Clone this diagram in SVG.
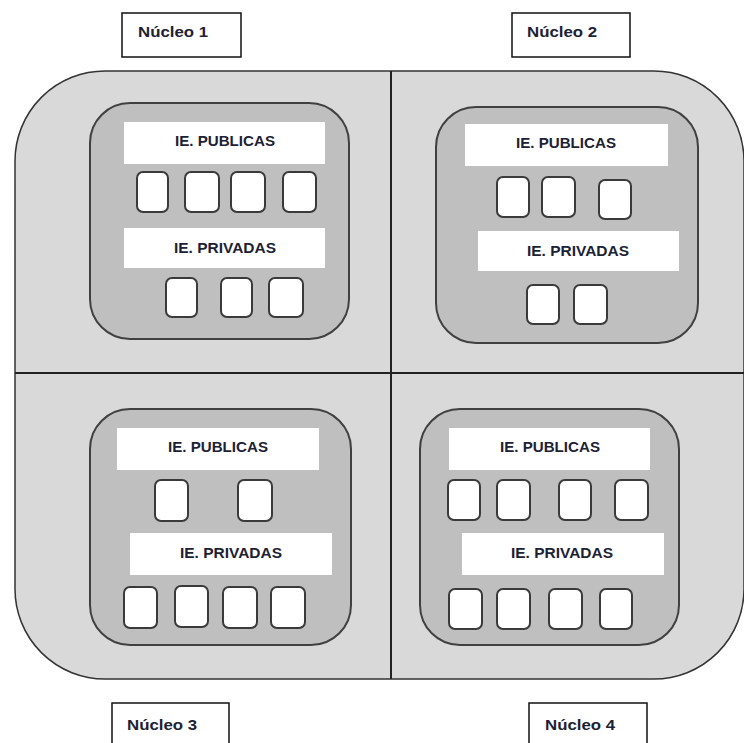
<svg xmlns="http://www.w3.org/2000/svg" width="744" height="743" viewBox="0 0 744 743">
<style>
  .outer{fill:#d9d9d9;stroke:#333;stroke-width:1.5}
  .div{stroke:#222;stroke-width:2}
  .inner{fill:#bfbfbf;stroke:#404040;stroke-width:2}
  .band{fill:#ffffff}
  .ie{fill:#ffffff;stroke:#3a3a3a;stroke-width:2}
  .lbl{fill:#ffffff;stroke:#111;stroke-width:1.5}
  .t{font-family:"Liberation Sans",Arial,sans-serif;font-size:14px;font-weight:bold;fill:#1c2233;text-anchor:middle}
  .n{font-family:"Liberation Sans",Arial,sans-serif;font-size:14px;font-weight:bold;fill:#1c2233}
</style>
<rect class="outer" x="15" y="71" width="729" height="608" rx="90" ry="90"/>
<g id="connectors">
  <line class="div" x1="391" y1="71" x2="391" y2="679"/>
  <line class="div" x1="15" y1="373" x2="744" y2="373"/>
</g>
<g id="nucleo1">
  <rect class="lbl" x="122" y="13" width="119" height="44"/>
  <text class="n" x="138" y="37" textLength="70" lengthAdjust="spacingAndGlyphs">Núcleo 1</text>
  <rect class="inner" x="90" y="103" width="259" height="236" rx="40"/>
  <rect class="band" x="124" y="122" width="201" height="42"/>
  <text class="t" x="225" y="146" textLength="100" lengthAdjust="spacingAndGlyphs">IE. PUBLICAS</text>
  <rect class="ie" x="137" y="172" width="31" height="40" rx="6"/>
  <rect class="ie" x="185" y="172" width="34" height="40" rx="6"/>
  <rect class="ie" x="231" y="172" width="34" height="40" rx="6"/>
  <rect class="ie" x="283" y="172" width="33" height="40" rx="6"/>
  <rect class="band" x="124" y="228" width="201" height="40"/>
  <text class="t" x="225" y="253" textLength="102" lengthAdjust="spacingAndGlyphs">IE. PRIVADAS</text>
  <rect class="ie" x="166" y="278" width="31" height="39" rx="6"/>
  <rect class="ie" x="221" y="278" width="31" height="39" rx="6"/>
  <rect class="ie" x="269" y="278" width="34" height="39" rx="6"/>
</g>
<g id="nucleo2">
  <rect class="lbl" x="512" y="13" width="118" height="44"/>
  <text class="n" x="527" y="37" textLength="70" lengthAdjust="spacingAndGlyphs">Núcleo 2</text>
  <rect class="inner" x="436" y="107" width="262" height="236" rx="40"/>
  <rect class="band" x="465" y="124" width="203" height="42"/>
  <text class="t" x="566" y="148" textLength="100" lengthAdjust="spacingAndGlyphs">IE. PUBLICAS</text>
  <rect class="ie" x="497" y="177" width="32" height="40" rx="6"/>
  <rect class="ie" x="542" y="177" width="33" height="40" rx="6"/>
  <rect class="ie" x="599" y="180" width="32" height="39" rx="6"/>
  <rect class="band" x="478" y="231" width="201" height="40"/>
  <text class="t" x="578" y="256" textLength="102" lengthAdjust="spacingAndGlyphs">IE. PRIVADAS</text>
  <rect class="ie" x="527" y="285" width="32" height="39" rx="6"/>
  <rect class="ie" x="574" y="285" width="33" height="39" rx="6"/>
</g>
<g id="nucleo3">
  <rect class="lbl" x="112" y="703" width="117" height="60"/>
  <text class="n" x="127" y="730" textLength="70" lengthAdjust="spacingAndGlyphs">Núcleo 3</text>
  <rect class="inner" x="90" y="409" width="261" height="236" rx="40"/>
  <rect class="band" x="117" y="428" width="202" height="42"/>
  <text class="t" x="218" y="452" textLength="100" lengthAdjust="spacingAndGlyphs">IE. PUBLICAS</text>
  <rect class="ie" x="155" y="480" width="33" height="41" rx="6"/>
  <rect class="ie" x="238" y="480" width="34" height="41" rx="6"/>
  <rect class="band" x="130" y="533" width="202" height="42"/>
  <text class="t" x="231" y="558" textLength="102" lengthAdjust="spacingAndGlyphs">IE. PRIVADAS</text>
  <rect class="ie" x="124" y="587" width="33" height="41" rx="6"/>
  <rect class="ie" x="175" y="586" width="33" height="41" rx="6"/>
  <rect class="ie" x="223" y="587" width="34" height="41" rx="6"/>
  <rect class="ie" x="271" y="587" width="34" height="41" rx="6"/>
</g>
<g id="nucleo4">
  <rect class="lbl" x="529" y="703" width="118" height="60"/>
  <text class="n" x="545" y="730" textLength="70" lengthAdjust="spacingAndGlyphs">Núcleo 4</text>
  <rect class="inner" x="420" y="409" width="259" height="236" rx="40"/>
  <rect class="band" x="449" y="428" width="201" height="42"/>
  <text class="t" x="550" y="452" textLength="100" lengthAdjust="spacingAndGlyphs">IE. PUBLICAS</text>
  <rect class="ie" x="448" y="480" width="32" height="40" rx="6"/>
  <rect class="ie" x="497" y="480" width="33" height="40" rx="6"/>
  <rect class="ie" x="559" y="480" width="32" height="40" rx="6"/>
  <rect class="ie" x="615" y="480" width="33" height="40" rx="6"/>
  <rect class="band" x="462" y="533" width="202" height="42"/>
  <text class="t" x="562" y="558" textLength="102" lengthAdjust="spacingAndGlyphs">IE. PRIVADAS</text>
  <rect class="ie" x="449" y="589" width="33" height="40" rx="6"/>
  <rect class="ie" x="497" y="589" width="33" height="40" rx="6"/>
  <rect class="ie" x="549" y="589" width="33" height="40" rx="6"/>
  <rect class="ie" x="600" y="589" width="32" height="40" rx="6"/>
</g>
</svg>
